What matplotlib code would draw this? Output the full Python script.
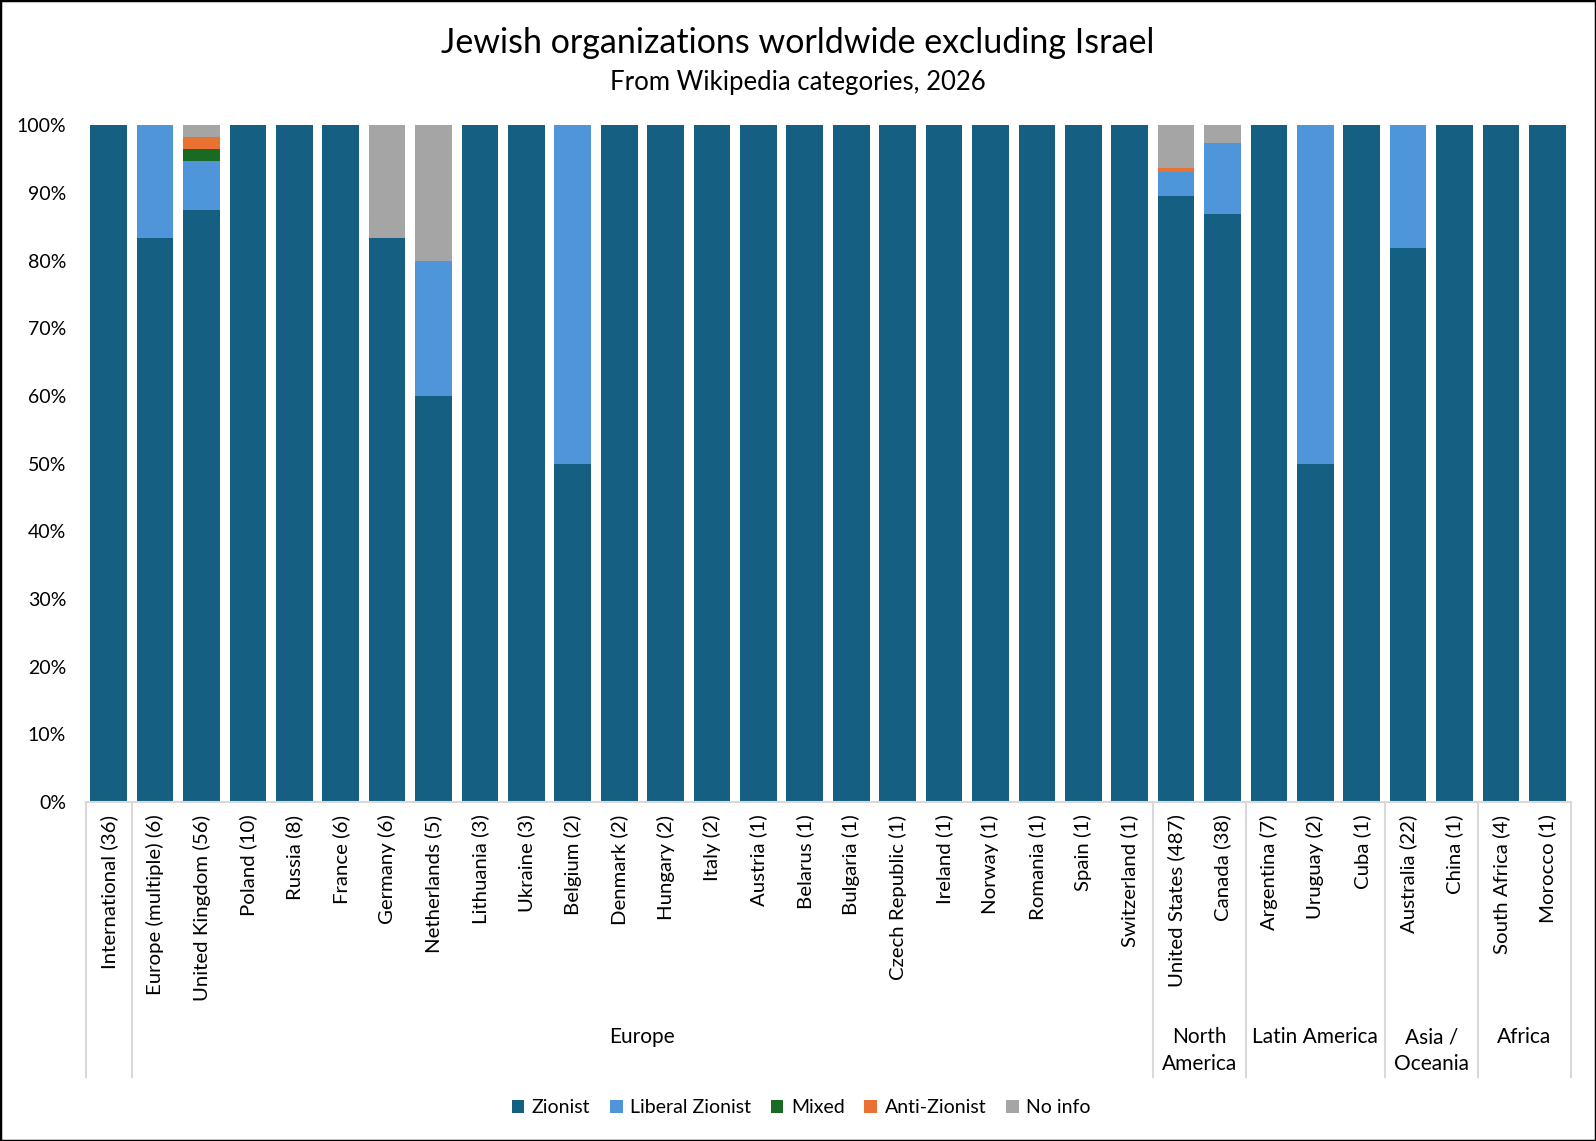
import matplotlib
matplotlib.use("Agg")
import matplotlib.pyplot as plt
from matplotlib.patches import Patch, Rectangle
from matplotlib.transforms import blended_transform_factory
from matplotlib.lines import Line2D
import numpy as np

plt.rcParams['font.family'] = ['Lato', 'DejaVu Sans']

categories = ["International (36)", "Europe (multiple) (6)", "United Kingdom (56)", "Poland (10)",
              "Russia (8)", "France (6)", "Germany (6)", "Netherlands (5)", "Lithuania (3)",
              "Ukraine (3)", "Belgium (2)", "Denmark (2)", "Hungary (2)", "Italy (2)",
              "Austria (1)", "Belarus (1)", "Bulgaria (1)", "Czech Republic (1)", "Ireland (1)",
              "Norway (1)", "Romania (1)", "Spain (1)", "Switzerland (1)", "United States (487)",
              "Canada (38)", "Argentina (7)", "Uruguay (2)", "Cuba (1)", "Australia (22)",
              "China (1)", "South Africa (4)", "Morocco (1)"]

# counts per category
zionist =         [36, 5, 49, 10, 8, 6, 5, 3, 3, 3, 1, 2, 2, 2, 1, 1, 1, 1, 1, 1, 1, 1, 1, 436, 33, 7, 1, 1, 18, 1, 4, 1]
liberal_zionist = [0, 1, 4, 0, 0, 0, 0, 1, 0, 0, 1, 0, 0, 0, 0, 0, 0, 0, 0, 0, 0, 0, 0, 17, 4, 0, 1, 0, 4, 0, 0, 0]
mixed =           [0, 0, 1, 0, 0, 0, 0, 0, 0, 0, 0, 0, 0, 0, 0, 0, 0, 0, 0, 0, 0, 0, 0, 0, 0, 0, 0, 0, 0, 0, 0, 0]
anti_zionist =    [0, 0, 1, 0, 0, 0, 0, 0, 0, 0, 0, 0, 0, 0, 0, 0, 0, 0, 0, 0, 0, 0, 0, 3, 0, 0, 0, 0, 0, 0, 0, 0]
no_info =         [0, 0, 1, 0, 0, 0, 1, 1, 0, 0, 0, 0, 0, 0, 0, 0, 0, 0, 0, 0, 0, 0, 0, 31, 1, 0, 0, 0, 0, 0, 0, 0]

groups = ["", "Europe", "North\nAmerica", "Latin America", "Asia /\nOceania", "Africa"]
group_sizes = [1, 22, 2, 3, 2, 2]

series_names = ["Zionist", "Liberal Zionist", "Mixed", "Anti-Zionist", "No info"]
colors = ["#156082", "#4E95D9", "#196B24", "#E97132", "#A5A5A5"]

W, H = 1568.0, 1121.0  # reference layout measured in these units

fig = plt.figure(figsize=(15.96, 11.41), dpi=100)
ax = fig.add_axes([84/W, 1-788/H, (1543-84)/W, (788-123)/H])

data = np.array([zionist, liberal_zionist, mixed, anti_zionist, no_info], dtype=float)
totals = data.sum(axis=0)
pct = data / totals * 100
x = np.arange(len(categories))
bottom = np.zeros(len(categories))
for vals, c in zip(pct, colors):
    ax.bar(x, vals, bottom=bottom, width=0.79, color=c, linewidth=0)
    bottom += vals

ax.set_xlim(-0.5, len(categories) - 0.5)
ax.set_ylim(0, 100)
ax.set_yticks(np.arange(0, 101, 10))
ax.set_yticklabels([f"{v}%" for v in range(0, 101, 10)], fontsize=14)
ax.tick_params(axis='y', length=0, pad=14)
ax.set_xticks(x)
ax.set_xticklabels(categories, rotation=90, fontsize=14.7, va='top', ha='center')
ax.tick_params(axis='x', length=0, pad=9)
for s in ['top', 'right', 'left']:
    ax.spines[s].set_visible(False)
ax.spines['bottom'].set_color('#D9D9D9')
ax.spines['bottom'].set_linewidth(1.5)

# group separators and labels
trans = blended_transform_factory(ax.transData, fig.transFigure)
y_axis = 1 - 788/H
y_end = 1 - 1058/H
bounds = np.concatenate([[0], np.cumsum(group_sizes)]) - 0.5
for b in bounds:
    fig.add_artist(Line2D([b, b], [y_axis, y_end], transform=trans, color='#D9D9D9', lw=1.5))
for i, g in enumerate(groups):
    if g:
        xc = (bounds[i] + bounds[i+1]) / 2
        fig.text(xc, 1 - 1009/H, g, transform=trans, ha='center', va='top', fontsize=15,
                 linespacing=1.45)

fig.text(0.5, 1 - 42/H, "Jewish organizations worldwide excluding Israel", ha='center', va='center', fontsize=24.5)
fig.text(0.5, 1 - 81/H, "From Wikipedia categories, 2026", ha='center', va='center', fontsize=18.5)

handles = [Patch(facecolor=c, edgecolor='none', label=n) for n, c in zip(series_names, colors)]
fig.legend(handles=handles, loc='center', bbox_to_anchor=(0.502, 1 - 1088/H), ncol=5, frameon=False,
           fontsize=14, handlelength=0.65, handleheight=0.65, handletextpad=0.4, columnspacing=1.0)

fig.add_artist(Rectangle((0, 0), 1, 1, transform=fig.transFigure, fill=False, edgecolor='black', lw=2.5))

fig.savefig("out.png", dpi=100)
